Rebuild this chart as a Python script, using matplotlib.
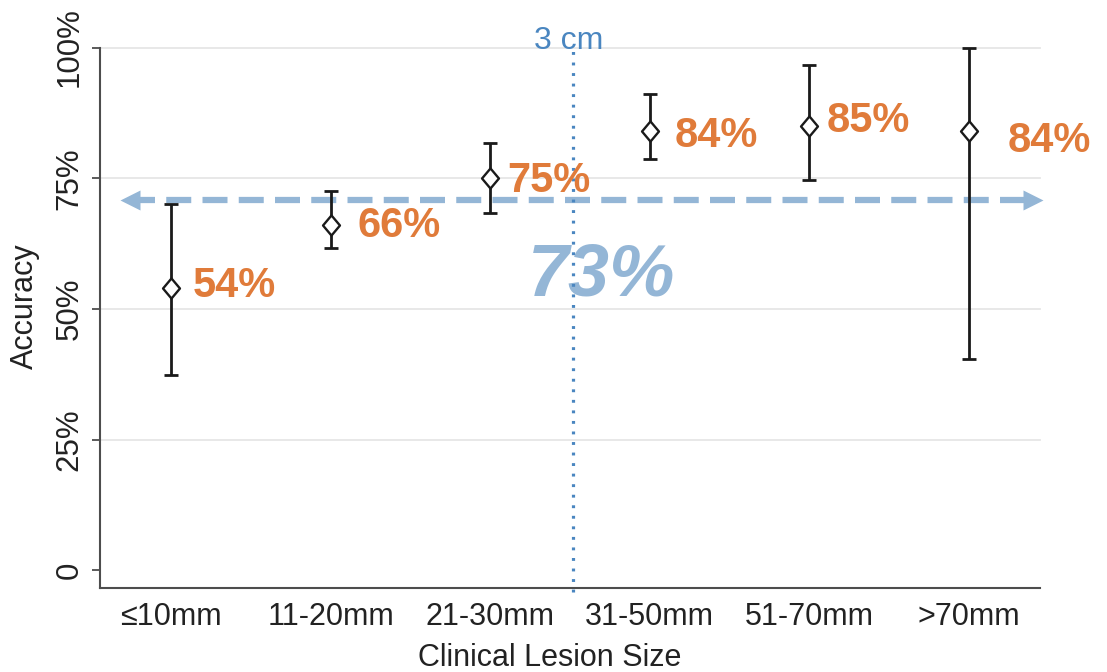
import numpy as np
import matplotlib.pyplot as plt
from matplotlib.path import Path

plt.rcParams['font.family'] = ['Liberation Sans', 'DejaVu Sans']

# accuracy by clinical lesion size, with 95% CI
sizes    = ['≤10mm', '11-20mm', '21-30mm', '31-50mm', '51-70mm', '>70mm']
accuracy = [54, 66, 75, 84, 85, 84]
ci_low   = [37.4, 61.7, 68.4, 78.6, 74.6, 40.5]
ci_high  = [70.0, 72.6, 81.8, 91.1, 96.6, 100.0]
overall  = 73
overall_line = 70.8
cutoff_x = 3.52

ORANGE = '#e07b3a'
LIGHTBLUE = '#94b6d6'
DOTBLUE = '#4a86c0'
AXCOL = '#4d4d4d'

x = np.arange(1, len(sizes) + 1)
acc = np.array(accuracy)
yerr = np.array([acc - np.array(ci_low), np.array(ci_high) - acc])

fig = plt.figure(figsize=(11.07, 6.72), dpi=100)
ax = fig.add_axes([0.0903, 0.125, 0.849, 0.8043])

ax.set_xlim(0.555, 6.445)
ax.set_ylim(-3.4, 100)

# light horizontal grid
for g in [25, 50, 75, 100]:
    ax.axhline(g, color='#e6e6e6', lw=1.3, zorder=0, clip_on=False)

# diamond marker, a bit narrower than tall
diamond = Path([(-0.42, 0), (0, 0.5), (0.42, 0), (0, -0.5), (-0.42, 0)],
               [Path.MOVETO, Path.LINETO, Path.LINETO, Path.LINETO, Path.CLOSEPOLY])
ax.errorbar(x, acc, yerr=yerr, fmt='none', ecolor='#1a1a1a', elinewidth=2.0,
            capsize=5, capthick=2.0, zorder=3, clip_on=False)
ax.plot(x, acc, linestyle='none', marker=diamond, ms=14.5, mfc='white',
        mec='#1a1a1a', mew=1.7, zorder=4)

# value labels
offsets = [(15.8, -6.4), (19.4, -8.4), (12.2, -9.8), (18, -11.3), (12.2, -4.2), (28, -14.9)]
for xi, v, (dx, dy) in zip(x, accuracy, offsets):
    ax.annotate(f'{v}%', (xi, v), xytext=(dx, dy), textcoords='offset points',
                ha='left', va='baseline', fontsize=30, fontweight='bold',
                color=ORANGE, zorder=5)

# overall accuracy: dashed double arrow
ax_l, ax_r = 0.685, 6.457
ax.plot([ax_l + 0.06, ax_r - 0.06], [overall_line, overall_line], color=LIGHTBLUE,
        lw=4.5, dashes=(4, 1.8), solid_capstyle='butt', dash_capstyle='butt',
        zorder=2, clip_on=False)
ax.plot([ax_l + 0.0565], [overall_line], marker='<', ms=14.5, color=LIGHTBLUE,
        mec='none', zorder=2, clip_on=False)
ax.plot([ax_r - 0.0565], [overall_line], marker='>', ms=14.5, color=LIGHTBLUE,
        mec='none', zorder=2, clip_on=False)
ax.text(3.237, 52.6, f'{overall}%', ha='left', va='baseline', fontsize=53,
        fontweight='bold', fontstyle='italic', color=LIGHTBLUE, zorder=2)

# 3 cm cutoff
ax.plot([cutoff_x, cutoff_x], [-4.2, 100], color=DOTBLUE, lw=2.3,
        linestyle=(0, (0.9, 2.4)), zorder=3, clip_on=False)
ax.text(3.494, 99.8, '3 cm', ha='center', va='baseline', fontsize=23,
        color=DOTBLUE, zorder=5)

# axes styling
for s in ['top', 'right']:
    ax.spines[s].set_visible(False)
for s in ['left', 'bottom']:
    ax.spines[s].set_color(AXCOL)
    ax.spines[s].set_linewidth(1.5)

ax.set_xticks(x)
ax.set_xticklabels(sizes)
ax.tick_params(axis='x', length=0, pad=10, labelsize=22, labelcolor='#222222')
ax.set_yticks([0, 25, 50, 75, 100])
ax.set_yticklabels(['0', '25%', '50%', '75%', '100%'], rotation=90, va='center')
ax.tick_params(axis='y', length=6, width=1.3, color=AXCOL, pad=5,
               labelsize=22.5, labelcolor='#222222')

ax.set_xlabel('Clinical Lesion Size', fontsize=22, color='#222222', va='center')
ax.xaxis.set_label_coords(0.478, -0.129)
ax.set_ylabel('Accuracy', fontsize=22, color='#222222', va='center')
ax.yaxis.set_label_coords(-0.0798, 0.521)

fig.savefig('out.png', dpi=100)
